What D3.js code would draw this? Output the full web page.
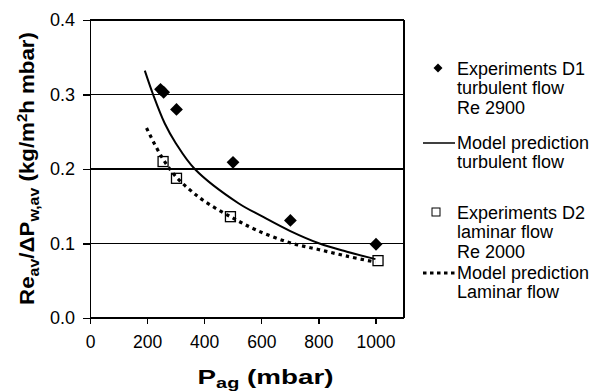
<!DOCTYPE html>
<html>
<head>
<meta charset="utf-8">
<script src="https://cdn.jsdelivr.net/npm/d3@7"></script>
<style>
  body { margin: 0; background: #fff; }
  text { font-family: "Liberation Sans", Arial, Helvetica, sans-serif; fill: #000; }
  .axis path, .axis line { stroke: #000; stroke-width: 1.3; shape-rendering: crispEdges; }
  .axis text { font-size: 17.5px; }
  .axis.y text { font-size: 18px; }
  .grid line { stroke: #000; stroke-width: 1.3; shape-rendering: crispEdges; }
  .legend text { font-size: 18px; }
  .title { font-weight: bold; }
</style>
</head>
<body>
<script>
// tick labels
const xTicks = [0, 200, 400, 600, 800, 1000];
const yTicks = [0, 0.1, 0.2, 0.3, 0.4];

// Experiments D1, turbulent flow (filled diamonds)
const d1Pressure = [247, 258, 303, 501, 702, 1002];
const d1Value = [0.307, 0.303, 0.280, 0.209, 0.131, 0.099];

// Experiments D2, laminar flow (open squares)
const d2Pressure = [256, 303, 492, 1009];
const d2Value = [0.210, 0.1875, 0.136, 0.077];

// model prediction, turbulent (solid line)
const turbPressure = [192, 221, 262, 300, 367, 520, 600, 700, 804, 900, 1000];
const turbValue = [0.332, 0.300, 0.261, 0.235, 0.200, 0.154, 0.137, 0.117, 0.100, 0.089, 0.079];

// model prediction, laminar (dotted line)
const lamPressure = [198, 250, 300, 350, 400, 492, 583, 700, 800, 900, 1000];
const lamValue = [0.255, 0.217, 0.190, 0.172, 0.157, 0.136, 0.118, 0.101, 0.092, 0.083, 0.075];

const legendItems = [
  { kind: "diamond", lines: ["Experiments D1", "turbulent flow", "Re 2900"], y: 68 },
  { kind: "solid", lines: ["Model prediction", "turbulent flow"], y: 142 },
  { kind: "square", lines: ["Experiments D2", "laminar flow", "Re 2000"], y: 212 },
  { kind: "dotted", lines: ["Model prediction", "Laminar flow"], y: 272 }
];

const width = 597, height = 392;
const plot = { left: 90, right: 404, top: 20, bottom: 318 };

const svg = d3.select("body").append("svg")
  .attr("width", width)
  .attr("height", height);

const x = d3.scaleLinear().domain([0, 1100]).range([plot.left, plot.right]);
const y = d3.scaleLinear().domain([0, 0.4]).range([plot.bottom, plot.top]);

// gridlines + box
svg.append("g").attr("class", "grid")
  .selectAll("line")
  .data(yTicks.filter(d => d > 0))
  .join("line")
  .attr("x1", plot.left).attr("x2", plot.right)
  .attr("y1", d => y(d)).attr("y2", d => y(d));

svg.append("line")
  .attr("x1", plot.right).attr("x2", plot.right)
  .attr("y1", plot.top).attr("y2", plot.bottom)
  .attr("stroke", "#000").attr("stroke-width", 1.3)
  .attr("shape-rendering", "crispEdges");

const xAxis = d3.axisBottom(x).tickValues(xTicks).tickSize(6).tickPadding(12)
  .tickFormat(d3.format("d")).tickSizeOuter(0);
const yAxis = d3.axisLeft(y).tickValues(yTicks).tickSize(7).tickPadding(8)
  .tickFormat(d3.format(".1f")).tickSizeOuter(0);

const gx = svg.append("g").attr("class", "axis x")
  .attr("transform", "translate(0," + plot.bottom + ")")
  .call(xAxis);
gx.select(".domain").attr("d", "M" + plot.left + ",0H" + plot.right);

svg.append("g").attr("class", "axis y")
  .attr("transform", "translate(" + plot.left + ",0)")
  .call(yAxis);

// markers
const diamond = d3.symbol().type(d3.symbolSquare).size(82);
const d1 = d1Pressure.map((p, i) => ({ p: p, v: d1Value[i] }));
svg.append("g").selectAll("path")
  .data(d1)
  .join("path")
  .attr("d", diamond)
  .attr("transform", d => "translate(" + x(d.p) + "," + y(d.v) + ") rotate(45)")
  .attr("fill", "#000");

const d2 = d2Pressure.map((p, i) => ({ p: p, v: d2Value[i] }));
svg.append("g").selectAll("rect")
  .data(d2)
  .join("rect")
  .attr("x", d => x(d.p) - 5).attr("y", d => y(d.v) - 5)
  .attr("width", 10).attr("height", 10)
  .attr("fill", "none").attr("stroke", "#000").attr("stroke-width", 1.3);

// model lines
const line = d3.line()
  .x(d => x(d.p)).y(d => y(d.v))
  .curve(d3.curveCatmullRom.alpha(0.5));

svg.append("path")
  .datum(turbPressure.map((p, i) => ({ p: p, v: turbValue[i] })))
  .attr("d", line)
  .attr("fill", "none").attr("stroke", "#000").attr("stroke-width", 2);

svg.append("path")
  .datum(lamPressure.map((p, i) => ({ p: p, v: lamValue[i] })))
  .attr("d", line)
  .attr("fill", "none").attr("stroke", "#000").attr("stroke-width", 3.2)
  .attr("stroke-dasharray", "3.5,4");

// axis titles; the original face is wider than Liberation, so stretch to the measured length
function fitTitle(sel, target, tx, ty, rot) {
  const w = sel.node().getComputedTextLength();
  const s = target / w;
  sel.attr("transform", "translate(" + tx + "," + ty + ")" + (rot ? " rotate(-90)" : "") + " scale(" + s + ",1)");
}

const xt = svg.append("text").attr("class", "title")
  .attr("text-anchor", "middle")
  .style("font-size", "21px");
xt.append("tspan").text("P");
xt.append("tspan").attr("dy", 4).style("font-size", "15px").text("ag");
xt.append("tspan").attr("dy", -4).text(" (mbar)");
fitTitle(xt, 136, 265.5, 384, false);

const yt = svg.append("text").attr("class", "title")
  .attr("text-anchor", "middle")
  .style("font-size", "21px");
yt.append("tspan").text("Re");
yt.append("tspan").attr("dy", 5).style("font-size", "15px").text("av");
yt.append("tspan").attr("dy", -5).text("/\u0394P");
yt.append("tspan").attr("dy", 5).style("font-size", "15px").text("w,av");
yt.append("tspan").attr("dy", -5).text(" (kg/m");
yt.append("tspan").attr("dy", -7).style("font-size", "14px").text("2");
yt.append("tspan").attr("dy", 7).text("h mbar)");
fitTitle(yt, 273, 34, 168.5, true);

// legend
const lg = svg.append("g").attr("class", "legend");
legendItems.forEach(item => {
  if (item.kind === "diamond") {
    lg.append("path")
      .attr("d", d3.symbol().type(d3.symbolSquare).size(40)())
      .attr("transform", "translate(438," + item.y + ") rotate(45)")
      .attr("fill", "#000");
  } else if (item.kind === "square") {
    lg.append("rect")
      .attr("x", 432).attr("y", item.y - 4)
      .attr("width", 8).attr("height", 8)
      .attr("fill", "none").attr("stroke", "#000").attr("stroke-width", 1);
  } else {
    lg.append("line")
      .attr("x1", 423).attr("x2", 455)
      .attr("y1", item.y + 1).attr("y2", item.y + 1)
      .attr("stroke", "#000")
      .attr("stroke-width", item.kind === "solid" ? 1.5 : 3)
      .attr("stroke-dasharray", item.kind === "dotted" ? "3.5,3.5" : null);
  }
  item.lines.forEach((t, i) => {
    lg.append("text")
      .attr("x", 457)
      .attr("y", item.y + 6.5 + i * 19.8)
      .text(t);
  });
});
</script>
</body>
</html>
